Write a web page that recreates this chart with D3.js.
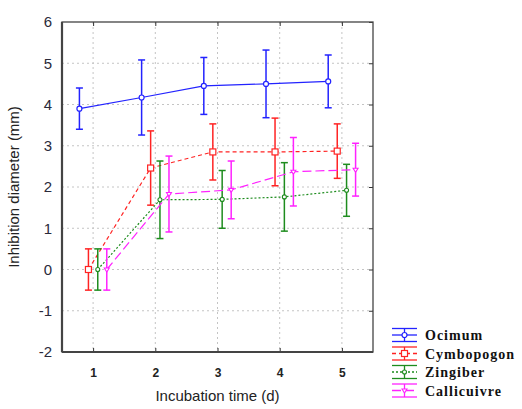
<!DOCTYPE html>
<html>
<head>
<meta charset="utf-8">
<script src="https://cdn.jsdelivr.net/npm/d3@7"></script>
<style>
  body { margin: 0; background: #fff; }
  svg { display: block; }
</style>
</head>
<body>
<div id="chart"></div>
<script>
/********************************************************/
// data
const days = [1, 2, 3, 4, 5];
const yTicks = [-2, -1, 0, 1, 2, 3, 4, 5, 6];
const seriesNames = ["Ocimum", "Cymbopogon", "Zingiber", "Callicuivre"];
const ocimumMean = [3.9, 4.17, 4.45, 4.5, 4.56];
const ocimumErr = [0.5, 0.91, 0.69, 0.82, 0.64];
const cymbopogonMean = [0, 2.46, 2.85, 2.85, 2.87];
const cymbopogonErr = [0.5, 0.9, 0.68, 0.82, 0.66];
const zingiberMean = [0, 1.69, 1.7, 1.76, 1.92];
const zingiberErr = [0.5, 0.94, 0.7, 0.83, 0.63];
const callicuivreMean = [0, 1.83, 1.93, 2.37, 2.42];
const callicuivreErr = [0.5, 0.92, 0.7, 0.83, 0.64];
/********************************************************/
const svgWidth = 522;
const svgHeight = 409;
const chartMargin = { top: 22, right: 149, bottom: 57, left: 62 };
const chartWidth = svgWidth - chartMargin.left - chartMargin.right;
const chartHeight = svgHeight - chartMargin.top - chartMargin.bottom;

const styles = [
  { color: "#2323ff", dash: null, marker: "circle", offset: -0.22 },
  { color: "#ff2323", dash: "4,3", marker: "square", offset: -0.075 },
  { color: "#1e8c1e", dash: "2,2", marker: "dot", offset: 0.075 },
  { color: "#ff22ff", dash: "9,4", marker: "triangle", offset: 0.22 },
];
const means = [ocimumMean, cymbopogonMean, zingiberMean, callicuivreMean];
const errs = [ocimumErr, cymbopogonErr, zingiberErr, callicuivreErr];
const series = seriesNames.map((name, i) => ({
  name,
  style: styles[i],
  values: days.map((d, j) => ({ day: d, mean: means[i][j], err: errs[i][j] })),
}));
/********************************************************/
const svg = d3.select("#chart").append("svg").attr("width", svgWidth).attr("height", svgHeight);
const chartGroup = svg.append("g").attr("transform", `translate(${chartMargin.left}, ${chartMargin.top})`);

const x = d3.scaleLinear().domain([0.5, 5.5]).range([0, chartWidth]);
const y = d3.scaleLinear().domain([-2, 6]).range([chartHeight, 0]);

// grid
chartGroup.append("g").selectAll("line").data(yTicks.slice(1, -1)).enter().append("line")
  .attr("x1", 0).attr("x2", chartWidth)
  .attr("y1", (d) => y(d)).attr("y2", (d) => y(d))
  .attr("stroke", "#c4c4c4").attr("stroke-dasharray", "2,3");
chartGroup.append("g").selectAll("line").data(days).enter().append("line")
  .attr("y1", 0).attr("y2", chartHeight)
  .attr("x1", (d) => x(d)).attr("x2", (d) => x(d))
  .attr("stroke", "#c4c4c4").attr("stroke-dasharray", "2,3");

// axes
const bottomAxis = d3.axisBottom(x).tickValues(days).tickSize(-4).tickPadding(16).tickFormat((d) => String(d));
const leftAxis = d3.axisLeft(y).tickValues(yTicks).tickSize(0).tickPadding(10).tickFormat((d) => String(d));
const topAxis = d3.axisTop(x).tickValues(days).tickSize(-4).tickFormat("");
const rightAxis = d3.axisRight(y).tickValues(yTicks).tickSize(-4).tickFormat("");

const gx = chartGroup.append("g").attr("transform", `translate(0, ${chartHeight})`).call(bottomAxis);
gx.selectAll("text").attr("font-family", "Liberation Sans, Arial, sans-serif").attr("font-size", "12px")
  .attr("font-weight", "bold").attr("fill", "#222");
const gy = chartGroup.append("g").call(leftAxis);
gy.selectAll("text").attr("font-family", "Liberation Sans, Arial, sans-serif").attr("font-size", "15px")
  .attr("fill", "#2a2a3a");
chartGroup.append("g").call(topAxis);
chartGroup.append("g").attr("transform", `translate(${chartWidth}, 0)`).call(rightAxis);
chartGroup.selectAll(".domain").attr("stroke", "none");
chartGroup.selectAll(".tick line").attr("stroke", "#333");

// frame
chartGroup.append("rect").attr("x", 0).attr("y", 0).attr("width", chartWidth).attr("height", chartHeight)
  .attr("fill", "none").attr("stroke", "#444").attr("stroke-width", 1.3);
chartGroup.append("line").attr("x1", 0).attr("x2", 0).attr("y1", 0).attr("y2", chartHeight)
  .attr("stroke", "#444").attr("stroke-width", 2.2);
chartGroup.append("line").attr("x1", 0).attr("x2", chartWidth).attr("y1", chartHeight).attr("y2", chartHeight)
  .attr("stroke", "#444").attr("stroke-width", 2.2);

// axis titles
chartGroup.append("text")
  .attr("x", chartWidth / 2).attr("y", chartHeight + 49)
  .attr("text-anchor", "middle")
  .attr("font-family", "Liberation Sans, Arial, sans-serif").attr("font-size", "15px").attr("fill", "#222")
  .text("Incubation time (d)");
chartGroup.append("text")
  .attr("transform", `translate(${-43}, ${chartHeight / 2}) rotate(-90)`)
  .attr("text-anchor", "middle")
  .attr("font-family", "Liberation Sans, Arial, sans-serif").attr("font-size", "15px").attr("fill", "#222")
  .text("Inhibition diameter (mm)");

function drawMarker(g, st, cx, cy) {
  if (st.marker === "circle") {
    g.append("circle").attr("cx", cx).attr("cy", cy).attr("r", 2.5)
      .attr("fill", "#fff").attr("stroke", st.color).attr("stroke-width", 1.2);
  } else if (st.marker === "square") {
    g.append("rect").attr("x", cx - 3).attr("y", cy - 3).attr("width", 6).attr("height", 6)
      .attr("fill", "#fff").attr("stroke", st.color).attr("stroke-width", 1.2);
  } else if (st.marker === "dot") {
    g.append("circle").attr("cx", cx).attr("cy", cy).attr("r", 2)
      .attr("fill", "#fff").attr("stroke", st.color).attr("stroke-width", 1.1);
  } else {
    g.append("path").attr("d", `M${cx - 2.5},${cy - 1.5}L${cx + 2.5},${cy - 1.5}L${cx},${cy + 2.5}Z`)
      .attr("fill", "#fff").attr("stroke", st.color).attr("stroke-width", 1.1);
  }
}

// series
series.forEach((s) => {
  const st = s.style;
  const g = chartGroup.append("g");
  const px = (d) => x(d.day + st.offset);
  g.append("path")
    .datum(s.values)
    .attr("d", d3.line().x(px).y((d) => y(d.mean)))
    .attr("fill", "none").attr("stroke", st.color).attr("stroke-width", 1.2)
    .attr("stroke-dasharray", st.dash);
  s.values.forEach((d) => {
    const cx = px(d);
    g.append("line").attr("x1", cx).attr("x2", cx).attr("y1", y(d.mean + d.err)).attr("y2", y(d.mean - d.err))
      .attr("stroke", st.color).attr("stroke-width", 1.5);
    [d.mean + d.err, d.mean - d.err].forEach((v) => {
      g.append("line").attr("x1", cx - 3.5).attr("x2", cx + 3.5).attr("y1", y(v)).attr("y2", y(v))
        .attr("stroke", st.color).attr("stroke-width", 1.5);
    });
    drawMarker(g, st, cx, y(d.mean));
  });
});

// legend
const legend = svg.append("g").attr("transform", "translate(392, 335)");
series.forEach((s, i) => {
  const st = s.style;
  const g = legend.append("g").attr("transform", `translate(0, ${i * 18.5})`);
  [-6.5, 6.5].forEach((dy) => {
    g.append("line").attr("x1", 0).attr("x2", 25).attr("y1", dy).attr("y2", dy)
      .attr("stroke", st.color).attr("stroke-width", 1.3);
  });
  g.append("line").attr("x1", 0).attr("x2", 25).attr("y1", 0).attr("y2", 0)
    .attr("stroke", st.color).attr("stroke-width", 1.3).attr("stroke-dasharray", st.dash);
  g.append("line").attr("x1", 12.5).attr("x2", 12.5).attr("y1", -6.5).attr("y2", 6.5)
    .attr("stroke", st.color).attr("stroke-width", 1.3);
  drawMarker(g, st, 12.5, 0);
  g.append("text").attr("x", 33).attr("y", 5)
    .attr("font-family", "Liberation Serif, Times New Roman, serif").attr("font-size", "14px")
    .attr("font-weight", "bold").attr("fill", "#111").attr("letter-spacing", "1px")
    .text(s.name);
});
</script>
</body>
</html>
